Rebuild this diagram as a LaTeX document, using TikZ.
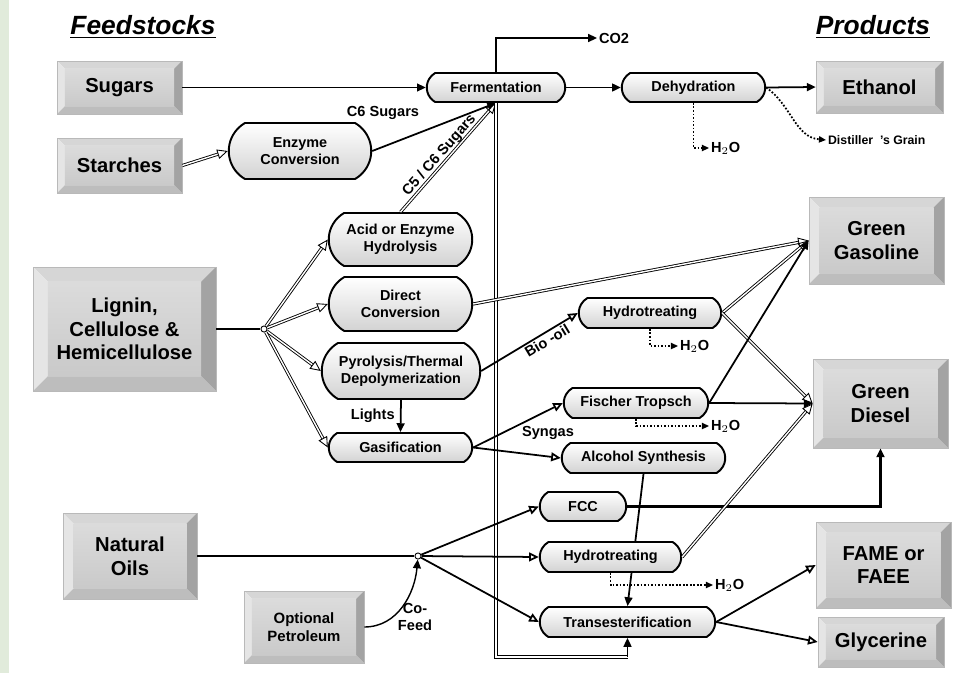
\documentclass[tikz,border=0pt]{standalone}
\usepackage{fontspec}
\setmainfont{Liberation Sans}
\usetikzlibrary{arrows.meta,shapes.misc}
\definecolor{stripgreen}{HTML}{E1EBDB}
\pgfdeclarelayer{bg}
\pgfsetlayers{bg,main}

\begin{document}
\begin{tikzpicture}[
    x = 0.02cm,
    y = -0.02cm,
    box/.style = {
      draw = gray!55,
      line width = 0.4pt,
      inner sep = 0pt,
      align = center,
      font = \fontsize{11.5}{13.5}\selectfont\bfseries,
      path picture = {
        \coordinate (bnw) at (path picture bounding box.north west);
        \coordinate (bne) at (path picture bounding box.north east);
        \coordinate (bse) at (path picture bounding box.south east);
        \coordinate (bsw) at (path picture bounding box.south west);
        \fill[gray!32] (bnw) -- (bne) -- ([shift={(-#1,-#1)}]bne) -- ([shift={(#1,-#1)}]bnw) -- cycle;
        \fill[gray!20] (bnw) -- (bsw) -- ([shift={(#1,#1)}]bsw) -- ([shift={(#1,-#1)}]bnw) -- cycle;
        \fill[gray!72] (bne) -- (bse) -- ([shift={(-#1,#1)}]bse) -- ([shift={(-#1,-#1)}]bne) -- cycle;
        \fill[gray!52] (bsw) -- (bse) -- ([shift={(-#1,#1)}]bse) -- ([shift={(#1,#1)}]bsw) -- cycle;
        \shade[top color = gray!28, middle color = white, bottom color = gray!42]
          ([shift={(#1,-#1)}]bnw) rectangle ([shift={(-#1,#1)}]bse);
      }
    },
    box/.default = 4.5pt,
    proc/.style = {
      rounded rectangle,
      rounded rectangle arc length = 120,
      draw,
      line width = 1.1pt,
      top color = white,
      bottom color = gray!35,
      inner sep = 1pt,
      align = center,
      font = \fontsize{8.2}{9.6}\selectfont\bfseries
    },
    lbl/.style = {
      inner sep = 1pt,
      align = center,
      font = \fontsize{8.3}{9.6}\selectfont\bfseries
    },
    title/.style = {
      font = \fontsize{15}{18}\selectfont\bfseries\itshape
    },
    dot/.style = {
      draw,
      fill = white,
      circle,
      inner sep = 0pt,
      minimum size = 3.5pt,
      line width = 0.5pt
    },
    flow/.style = {
      line width = 1pt,
      -{Triangle[length=5pt,width=4.5pt]}
    },
    oflow/.style = {
      line width = 1pt,
      -{Triangle[open,length=5.5pt,width=5pt]}
    },
    dflow/.style = {
      double,
      double distance = 0.8pt,
      line width = 0.5pt,
      -{Triangle[open,length=6pt,width=5.5pt]}
    },
    wet/.style = {
      densely dotted,
      line width = 1pt,
      -{Triangle[length=4pt,width=3.5pt]}
    }
  ]
  \useasboundingbox (0,0) rectangle (961,673);
  \fill[stripgreen] (0,0) rectangle (9,673);

  % titles
  \node[title] (feedt) at (143,27) {\underline{Feedstocks}};
  \node[title] (prodt) at (873,27) {\underline{Products}};

  % feedstocks
  \node[box, minimum width=2.5cm, minimum height=1.06cm] (sugars) at (119.5,87.5) {Sugars};
  \node[box, minimum width=2.5cm, minimum height=1.1cm] (starches) at (119.5,165.5) {Starches};
  \node[box=8.5pt, minimum width=3.66cm, minimum height=2.48cm] (lignin) at (124.5,329) {Lignin,\\Cellulose \&\\Hemicellulose};
  \node[box=6pt, minimum width=2.68cm, minimum height=1.72cm] (oils) at (130,556) {Natural\\Oils};
  \node[box, minimum width=2.4cm, minimum height=1.44cm, font=\fontsize{8.5}{10}\selectfont\bfseries] (petrol) at (304,627) {Optional\\Petroleum};

  % products
  \node[box, minimum width=2.54cm, minimum height=1.04cm] (ethanol) at (879.5,87) {Ethanol};
  \node[box=6pt, minimum width=2.7cm, minimum height=1.74cm] (gasoline) at (876.5,240.5) {Green\\Gasoline};
  \node[box=6pt, minimum width=2.7cm, minimum height=1.78cm] (diesel) at (880.5,403.5) {Green\\Diesel};
  \node[box=6pt, minimum width=2.7cm, minimum height=1.72cm] (fame) at (883.5,565) {FAME or\\FAEE};
  \node[box, minimum width=2.52cm, minimum height=1cm] (glycerine) at (881,642) {Glycerine};

  % processes
  \node[proc, minimum width=2.84cm, minimum height=0.58cm] (ferm) at (496,87.5) {Fermentation};
  \node[proc, minimum width=2.94cm, minimum height=0.58cm] (dehyd) at (693.5,87.5) {Dehydration};
  \node[proc, minimum width=2.92cm, minimum height=1.12cm] (enzyme) at (300,151) {Enzyme\\Conversion};
  \node[proc, minimum width=2.94cm, minimum height=1.06cm] (acid) at (400.5,239.5) {Acid or Enzyme\\Hydrolysis};
  \node[proc, minimum width=2.94cm, minimum height=1.08cm] (direct) at (400.5,304) {Direct\\Conversion};
  \node[proc, minimum width=3.24cm, minimum height=1.12cm] (pyro) at (401,371) {Pyrolysis/Thermal\\Depolymerization};
  \node[proc, minimum width=2.94cm, minimum height=0.58cm] (gasif) at (400.5,447.5) {Gasification};
  \node[proc, minimum width=2.92cm, minimum height=0.6cm] (hydro1) at (650,313) {Hydrotreating};
  \node[proc, minimum width=2.96cm, minimum height=0.6cm] (ft) at (636,403) {Fischer Tropsch};
  \node[proc, minimum width=3.34cm, minimum height=0.6cm] (alcohol) at (643.5,458) {Alcohol Synthesis};
  \node[proc, minimum width=1.8cm, minimum height=0.58cm] (fcc) at (583,506.5) {FCC};
  \node[proc, minimum width=2.9cm, minimum height=0.6cm] (hydro2) at (610.5,557) {Hydrotreating};
  \node[proc, minimum width=3.58cm, minimum height=0.6cm] (trans) at (627.5,622) {Transesterification};

  % junctions and side streams
  \node[dot] (j1) at (264,329) {};
  \node[dot] (j2) at (418,556) {};
  \coordinate (tcorner) at (627.5,657);
  \node[lbl, anchor=west] (co2) at (597,38) {CO2};
  \node[lbl, anchor=west] (w1) at (709,148) {H$_2$O};
  \node[lbl, anchor=west] (w2) at (678,346) {H$_2$O};
  \node[lbl, anchor=west] (w3) at (709,426) {H$_2$O};
  \node[lbl, anchor=west] (w4) at (713,585) {H$_2$O};
  \node[lbl, anchor=west, font=\fontsize{7}{8}\selectfont\bfseries] (dg) at (826,140) {Distiller\ \ 's Grain};
  \node[lbl] (c6) at (383,113) {C6 Sugars};
  \node[lbl] (syngas) at (548,433) {Syngas};
  \node[lbl] (cofeed) at (415,617) {Co-\\Feed};

  % sugar route
  \draw[flow, line width=0.8pt] (sugars.east) -- (ferm.west);
  \draw[dflow] (starches.east) -- (enzyme.west);
  \draw[flow] (enzyme.east) -- (ferm.south);
  \draw[dflow] (acid.north) -- node[lbl, sloped, above, inner sep=0.3pt, pos=0.47] {C5 / C6 Sugars} (ferm.south);
  \draw[flow] (ferm.east) -- (dehyd.west);
  \draw[flow] (dehyd.east) -- (ethanol.west);
  \draw[flow] (ferm.north) |- (co2.west);
  \draw[wet] (dehyd.south) |- (w1.west);
  \draw[wet] (dehyd.east) to[out=-35, in=175] (dg.west);
  \draw[double, double distance=1.2pt, line width=0.5pt] (ferm.south) |- (tcorner);
  \draw[flow] (tcorner) -- (trans.south);

  % lignocellulose route
  \draw[line width=0.8pt] (lignin.east) -- (j1);
  \draw[dflow] (j1) -- (acid.west);
  \draw[dflow] (j1) -- (direct.west);
  \draw[dflow] (j1) -- (pyro.west);
  \draw[dflow] (j1) -- (gasif.west);
  \draw[flow] (pyro.south) -- node[lbl, left=2pt] {Lights} (gasif.north);
  \draw[oflow] (pyro.east) -- node[lbl, sloped, below, pos=0.64] {Bio -oil} (hydro1.west);
  \draw[oflow] (gasif.east) -- (ft.west);
  \draw[oflow] (gasif.east) -- (alcohol.west);
  \draw[dflow] (direct.east) -- (gasoline.west);
  \draw[dflow] (hydro1.east) -- (gasoline.west);
  \draw[dflow] (hydro1.east) -- (diesel.west);
  \draw[flow] (ft.east) -- (gasoline.west);
  \draw[flow] (ft.east) -- (diesel.west);
  \draw[wet] (hydro1.south) |- (w2.west);
  \draw[wet] (ft.south) |- (w3.west);

  % natural oils route
  \draw[line width=0.6pt] (oils.east) -- (j2);
  \draw[flow, line width=0.8pt] (petrol.east) to[out=0, in=-95] (j2);
  \draw[oflow] (j2) -- (fcc.west);
  \draw[oflow] (j2) -- (hydro2.west);
  \draw[oflow] (j2) -- (trans.west);
  \draw[flow, line width=1.2pt] (fcc.east) -| (diesel.south);
  \draw[dflow] (hydro2.east) -- (diesel.west);
  \draw[wet] (hydro2.south) |- (w4.west);
  \begin{pgfonlayer}{bg}
    \draw[flow] (alcohol.south) -- (trans.north);
  \end{pgfonlayer}
  \draw[oflow] (trans.east) -- (fame.west);
  \draw[oflow] (trans.east) -- (glycerine.west);
\end{tikzpicture}
\end{document}
